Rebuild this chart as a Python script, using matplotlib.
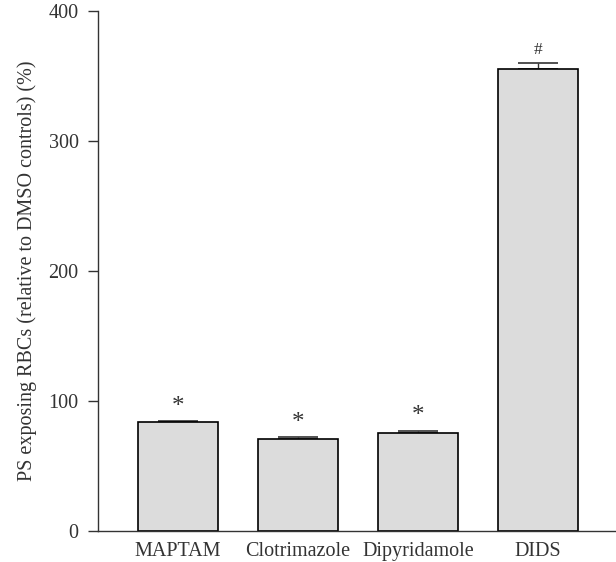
import matplotlib
matplotlib.use("Agg")
import matplotlib.pyplot as plt
import numpy as np

categories = ["MAPTAM", "Clotrimazole", "Dipyridamole", "DIDS"]
values = [83.5, 70.8, 75.2, 355.4]
errors = [1.3, 1.5, 2.0, 4.8]
markers = ["*", "*", "*", "#"]
yticks = [0, 100, 200, 300, 400]
ylabel = "PS exposing RBCs (relative to DMSO controls) (%)"

plt.rcParams['font.family'] = ['Liberation Serif', 'DejaVu Serif']

fig = plt.figure(figsize=(6.16, 5.62), dpi=100)
ax = fig.add_axes([98/616, 31/562, (615-98)/616, (531-11)/562])

x = np.arange(len(categories))
ax.bar(x, values, width=0.667, color="#dcdcdc", edgecolor="black", linewidth=1.2, zorder=2)
ax.errorbar(x, values, yerr=[np.zeros(len(errors)), errors], fmt="none",
            ecolor="#333333", elinewidth=1.0, capsize=14.4, capthick=1.2, zorder=1)

for xi, v, e, m in zip(x, values, errors, markers):
    if m == "*":
        ax.text(xi, v + e + 2.5, m, ha="center", va="bottom", fontsize=18, color="#333333")
    else:
        ax.text(xi, v + e + 4, m, ha="center", va="bottom", fontsize=12.5, color="#333333")

ax.set_xlim(-0.667, 3.64)
ax.set_ylim(0, 400)
ax.set_yticks(yticks)
ax.set_xticks(x)
ax.set_xticklabels(categories)
ax.set_ylabel(ylabel, fontsize=14.5, color="#333333")
ax.yaxis.set_label_coords((37 - 98) / 517, 0.5)

for s in ["top", "right"]:
    ax.spines[s].set_visible(False)
for s in ["left", "bottom"]:
    ax.spines[s].set_linewidth(1.0)
    ax.spines[s].set_color("#333333")

ax.tick_params(axis="y", length=7, width=1.0, color="#333333", labelsize=14.5, labelcolor="#333333", pad=7)
ax.tick_params(axis="x", length=0, labelsize=14.5, labelcolor="#333333", pad=8)

fig.savefig("out.png", dpi=100)
